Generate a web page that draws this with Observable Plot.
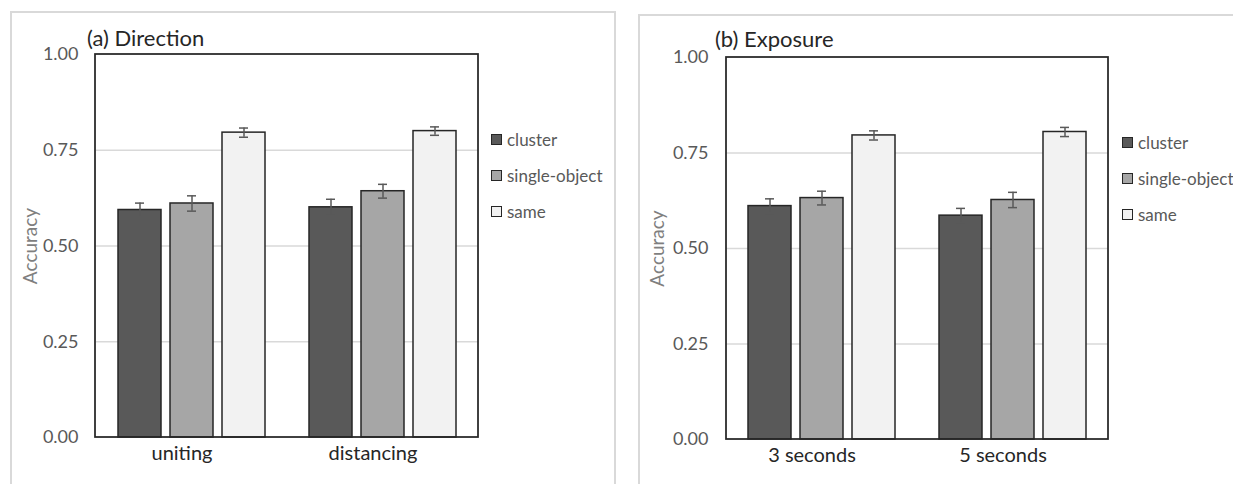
<!DOCTYPE html>
<html>
<head>
<meta charset="utf-8">
<script src="https://cdn.jsdelivr.net/npm/d3@7"></script>
<script src="https://cdn.jsdelivr.net/npm/@observablehq/plot@0.6"></script>
<style>
  html, body { margin: 0; padding: 0; background: #fff; }
  body { position: relative; width: 1233px; height: 484px; overflow: hidden; font-family: Lato, sans-serif; }
  .panel { position: absolute; box-sizing: border-box; border: 2px solid #d9d9d9; }
  .chart { position: absolute; top: 0; }
  .title { position: absolute; font-size: 22px; color: #262626; line-height: 1; white-space: nowrap; }
  .legend { position: absolute; font-size: 17px; color: #595959; }
  .legend .row { position: absolute; display: flex; align-items: center; height: 20px; white-space: nowrap; }
  .legend .sw { width: 9px; height: 9px; border: 1.5px solid #262626; margin-right: 5px; }
</style>
</head>
<body>
<div class="panel" style="left:10px; top:11px; width:606px; height:520px;"></div>
<div class="panel" style="left:638px; top:14px; width:700px; height:520px;"></div>
<div id="chartA" class="chart" style="left:0px;"></div>
<div id="chartB" class="chart" style="left:620px;"></div>
<div class="title" style="left:87px; top:27px;">(a) Direction</div>
<div class="title" style="left:715px; top:28px;">(b) Exposure</div>
<div id="legendA" class="legend" style="left:491px; top:129px;"></div>
<div id="legendB" class="legend" style="left:1122px; top:132px;"></div>
<script>
// Conditions, series and tick values
const directionGroups = ["uniting", "distancing"];
const exposureGroups = ["3 seconds", "5 seconds"];
const series = ["cluster", "single-object", "same"];
const seriesColors = ["#595959", "#a6a6a6", "#f2f2f2"];
const yTicks = [0, 0.25, 0.5, 0.75, 1];
const gridTicks = [0.25, 0.5, 0.75];

// Mean accuracy, one row per group, one column per series
const directionMean = [[0.594, 0.611, 0.796], [0.601, 0.643, 0.800]];
const directionErr = [[0.018, 0.020, 0.012], [0.021, 0.018, 0.011]];
const exposureMean = [[0.611, 0.632, 0.796], [0.586, 0.627, 0.805]];
const exposureErr = [[0.019, 0.018, 0.012], [0.019, 0.020, 0.012]];

function drawPanel(el, groups, mean, err, dims) {
  const rows = groups.flatMap((g, i) =>
    series.map((s, j) => ({group: g, series: s, value: mean[i][j], err: err[i][j]})));
  const chart = Plot.plot({
    width: dims.width,
    height: 484,
    marginLeft: dims.left,
    marginRight: dims.right,
    marginTop: dims.top,
    marginBottom: dims.bottom,
    style: {fontFamily: "Lato, sans-serif", background: "transparent", overflow: "visible"},
    fx: {domain: groups, padding: 0},
    x: {domain: series, paddingInner: 0.18, paddingOuter: 0.4, axis: null},
    y: {domain: [0, 1]},
    color: {domain: series, range: seriesColors},
    marks: [
      Plot.ruleY(gridTicks, {stroke: "#d9d9d9", strokeWidth: 1.5}),
      Plot.axisY(yTicks, {
        tickSize: 0, tickPadding: 18, tickFormat: d3.format(".2f"),
        fontSize: 18, color: "#595959",
        label: "Accuracy", labelAnchor: "center", labelArrow: "none", labelOffset: dims.labelOffset
      }),
      Plot.axisFx({anchor: "bottom", tickSize: 0, tickPadding: 8, dx: -10, fontSize: 20, color: "#262626", label: null}),
      Plot.barY(rows, {fx: "group", x: "series", y: "value", fill: "series", stroke: "#262626", strokeWidth: 1.5}),
      Plot.ruleX(rows, {fx: "group", x: "series", y1: d => d.value - d.err, y2: d => d.value + d.err, stroke: "#595959", strokeWidth: 1.5}),
      Plot.tickY(rows, {fx: "group", x: "series", y: d => d.value - d.err, insetLeft: 17, insetRight: 17, stroke: "#595959", strokeWidth: 1.5}),
      Plot.tickY(rows, {fx: "group", x: "series", y: d => d.value + d.err, insetLeft: 17, insetRight: 17, stroke: "#595959", strokeWidth: 1.5})
    ]
  });
  // Plot-area border spanning both facets
  const fx = chart.scale("fx");
  const y = chart.scale("y");
  const [x0, x1] = fx.range;
  const [yb, yt] = y.range;
  d3.select(chart).append("rect")
    .attr("x", x0).attr("y", yt)
    .attr("width", x1 - x0).attr("height", yb - yt)
    .attr("fill", "none").attr("stroke", "#262626").attr("stroke-width", 1.75);
  d3.select(chart).selectAll('[aria-label="y-axis label"]')
    .style("font-size", "19px").style("fill", "#7f7f7f").attr("fill", "#7f7f7f");
  el.append(chart);
}

function drawLegend(el) {
  series.forEach((s, i) => {
    const row = document.createElement("div");
    row.className = "row";
    row.style.top = (i * 36) + "px";
    const sw = document.createElement("div");
    sw.className = "sw";
    sw.style.background = seriesColors[i];
    const label = document.createElement("span");
    label.textContent = s;
    row.append(sw, label);
    el.append(row);
  });
}

drawPanel(document.getElementById("chartA"), directionGroups, directionMean, directionErr,
  {width: 620, left: 95, right: 142, top: 54, bottom: 47, labelOffset: 73});
drawPanel(document.getElementById("chartB"), exposureGroups, exposureMean, exposureErr,
  {width: 613, left: 106, right: 125, top: 57, bottom: 45, labelOffset: 76});
drawLegend(document.getElementById("legendA"));
drawLegend(document.getElementById("legendB"));
</script>
</body>
</html>
